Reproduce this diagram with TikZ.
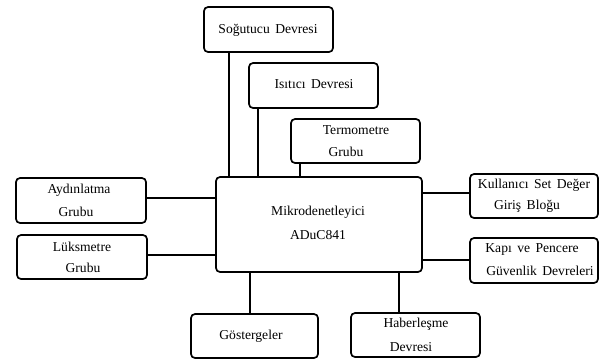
\documentclass[tikz,border=0pt]{standalone}
\usepackage{fontspec}
\setmainfont[WordSpace={1.6,1,1}]{Liberation Serif}
\begin{document}
\begin{tikzpicture}[x=1pt,y=-1pt,
  blk/.style={draw,line width=1.7pt,rounded corners=4pt,inner sep=0pt,outer sep=0pt},
  txt/.style={inner sep=0pt,font=\fontsize{13.6}{15}\selectfont},
  wire/.style={line width=1.3pt}]
\useasboundingbox (0,0) rectangle (600,360);
% boxes
\node[blk,minimum width=129pt,minimum height=45pt] (sog) at (268.5,29.5) {};
\node[blk,minimum width=129pt,minimum height=45pt] (isi) at (313.5,85.5) {};
\node[blk,minimum width=129pt,minimum height=44pt] (ter) at (355.5,141) {};
\node[blk,minimum width=206pt,minimum height=95pt] (main) at (319,224.5) {};
\node[blk,minimum width=130pt,minimum height=45pt] (ayd) at (81,200.5) {};
\node[blk,minimum width=130pt,minimum height=44pt] (luk) at (82,257) {};
\node[blk,minimum width=127pt,minimum height=44pt] (gos) at (254.5,336) {};
\node[blk,minimum width=129pt,minimum height=44pt] (hab) at (415.5,335) {};
\node[blk,minimum width=128pt,minimum height=44pt] (kul) at (534,196) {};
\node[blk,minimum width=128pt,minimum height=45pt] (kap) at (534,260.5) {};
% texts
\node[txt] (tsog) at (268,30) {Soğutucu Devresi};
\node[txt] (tisi) at (314,84) {Isıtıcı Devresi};
\node[txt] (tter1) at (356,130) {Termometre};
\node[txt] (tter2) at (346,152) {Grubu};
\node[txt] (tm1) at (318,212) {Mikrodenetleyici};
\node[txt] (tm2) at (318,235) {ADuC841};
\node[txt] (tayd1) at (79,190) {Aydınlatma};
\node[txt] (tayd2) at (76,212) {Grubu};
\node[txt] (tluk1) at (82,247) {Lüksmetre};
\node[txt] (tluk2) at (83,268) {Grubu};
\node[txt] (tkul1) at (534,185) {Kullanıcı Set Değer};
\node[txt] (tkul2) at (527,206) {Giriş Bloğu};
\node[txt] (tkap1) at (532,249) {Kapı ve Pencere};
\node[txt] (tkap2) at (540,271) {Güvenlik Devreleri};
\node[txt] (thab1) at (416,324) {Haberleşme};
\node[txt] (thab2) at (411,347) {Devresi};
\node[txt] (tgos) at (251,336) {Göstergeler};
% connector positions
\coordinate (xs) at (229,0);
\coordinate (xi) at (258,0);
\coordinate (xt) at (300,0);
\coordinate (xg) at (250,0);
\coordinate (xh) at (399,0);
\coordinate (ya) at (0,198);
\coordinate (yl) at (0,255);
\coordinate (yk) at (0,193);
\coordinate (yp) at (0,260);
% connectors
\draw[wire] (sog.south -| xs) -- (main.north -| xs);
\draw[wire] (isi.south -| xi) -- (main.north -| xi);
\draw[wire] (ter.south -| xt) -- (main.north -| xt);
\draw[wire] (main.south -| xg) -- (gos.north -| xg);
\draw[wire] (main.south -| xh) -- (hab.north -| xh);
\draw[wire] (ayd.east |- ya) -- (main.west |- ya);
\draw[wire] (luk.east |- yl) -- (main.west |- yl);
\draw[wire] (main.east |- yk) -- (kul.west |- yk);
\draw[wire] (main.east |- yp) -- (kap.west |- yp);
\end{tikzpicture}
\end{document}
